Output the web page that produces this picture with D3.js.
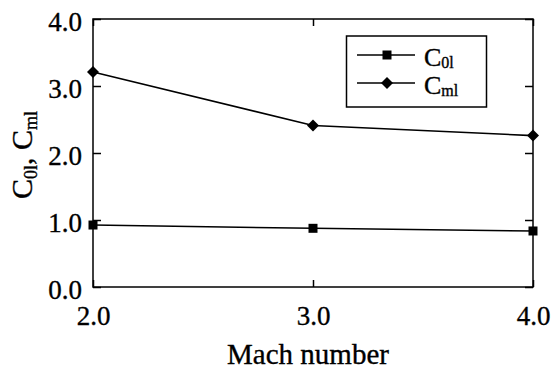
<!DOCTYPE html>
<html><head><meta charset="utf-8">
<script src="https://cdn.jsdelivr.net/npm/d3@7"></script>
<style>body{margin:0;background:#fff}svg{display:block}svg text{font-family:"Liberation Serif","Times New Roman",serif !important;fill:#000;stroke:#000;stroke-width:0.35px}</style>
</head><body>
<svg id="c" width="554" height="371"></svg>
<script>
const mach = [2.0, 3.0, 4.0];
const c0l = [0.925, 0.876, 0.836];
const cml = [3.21, 2.41, 2.26];
const xTicks = [2.0, 3.0, 4.0];
const yTicks = [0.0, 1.0, 2.0, 3.0, 4.0];

const svg = d3.select("#c");
const m = {l: 93, r: 533, t: 19, b: 287};
const x = d3.scaleLinear().domain([2, 4]).range([m.l, m.r]);
const y = d3.scaleLinear().domain([0, 4]).range([m.b, m.t]);
const fmt = d3.format(".1f");

svg.append("rect").attr("x", m.l).attr("y", m.t).attr("width", m.r - m.l).attr("height", m.b - m.t)
  .attr("fill", "none").attr("stroke", "#000").attr("stroke-width", 1.5);

const ax = svg.append("g").attr("transform", `translate(0,${m.b})`)
  .call(d3.axisBottom(x).tickValues(xTicks).tickFormat(fmt).tickSize(-7).tickPadding(19));
const ay = svg.append("g").attr("transform", `translate(${m.l},0)`)
  .call(d3.axisLeft(y).tickValues(yTicks).tickFormat(fmt).tickSize(-8).tickPadding(11));
const axT = svg.append("g").attr("transform", `translate(0,${m.t})`)
  .call(d3.axisTop(x).tickValues(xTicks).tickFormat("").tickSize(-7));
const ayR = svg.append("g").attr("transform", `translate(${m.r},0)`)
  .call(d3.axisRight(y).tickValues(yTicks).tickFormat("").tickSize(-8));
[ax, ay, axT, ayR].forEach(g => {
  g.attr("font-family", null).attr("font-size", null);
  g.select(".domain").remove();
  g.selectAll("line").attr("stroke", "#000").attr("stroke-width", 1.5);
  g.selectAll("text").attr("font-family", "Liberation Serif").style("font-size", "27px").attr("fill", "#000");
});
ax.selectAll("text").attr("dy", "0.71em");
ay.selectAll("text").attr("dy", "0.42em");

const line = d3.line().x(d => x(d[0])).y(d => y(d[1]));
const s1 = mach.map((v, i) => [v, c0l[i]]);
const s2 = mach.map((v, i) => [v, cml[i]]);
svg.append("path").attr("d", line(s1)).attr("fill", "none").attr("stroke", "#000").attr("stroke-width", 1.6);
svg.append("path").attr("d", line(s2)).attr("fill", "none").attr("stroke", "#000").attr("stroke-width", 1.6);
const sq = "M-4.5,-4.5H4.5V4.5H-4.5Z";
const dm = "M0,-6L6,0L0,6L-6,0Z";
svg.selectAll(".sq").data(s1).join("path").attr("d", sq).attr("transform", d => `translate(${x(d[0])},${y(d[1])})`).attr("fill", "#000");
svg.selectAll(".dm").data(s2).join("path").attr("d", dm).attr("transform", d => `translate(${x(d[0])},${y(d[1])})`).attr("fill", "#000");

const lg = svg.append("g");
lg.append("rect").attr("x", 346.5).attr("y", 36).attr("width", 140).attr("height", 71)
  .attr("fill", "#fff").attr("stroke", "#000").attr("stroke-width", 1.5);
const items = [{sub: "0l", sym: sq, yy: 55}, {sub: "ml", sym: dm, yy: 83}];
items.forEach(it => {
  lg.append("line").attr("x1", 357).attr("x2", 415).attr("y1", it.yy).attr("y2", it.yy).attr("stroke", "#000").attr("stroke-width", 1.6);
  lg.append("path").attr("d", it.sym).attr("transform", `translate(387,${it.yy})`).attr("fill", "#000");
  const t = lg.append("text").attr("x", 424).attr("y", it.yy + 11).style("font-size", "26px");
  t.append("tspan").text("C");
  t.append("tspan").attr("dy", 2).style("font-size", "16px").text(it.sub);
});

svg.append("text").attr("x", 308).attr("y", 364).attr("text-anchor", "middle").style("font-size", "29px").text("Mach number");
const yt = svg.append("text").attr("transform", "translate(32,155) rotate(-90)").attr("text-anchor", "middle").style("font-size", "30px");
yt.append("tspan").text("C");
yt.append("tspan").attr("dy", 5).style("font-size", "18px").text("0l");
yt.append("tspan").attr("dy", -5).text(", C");
yt.append("tspan").attr("dy", 5).style("font-size", "18px").text("ml");
</script>
</body></html>
